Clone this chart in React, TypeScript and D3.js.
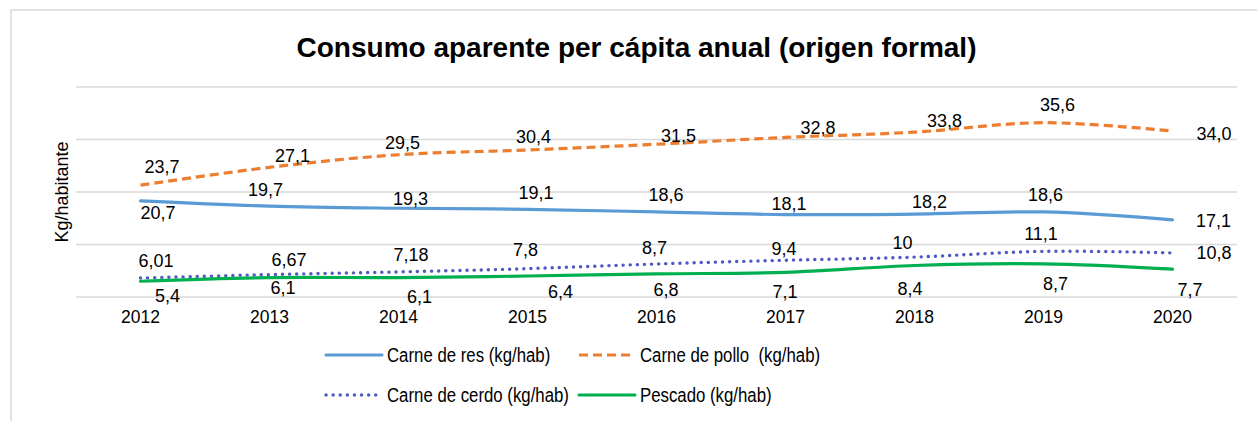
import * as d3 from "d3";

const years = ["2012", "2013", "2014", "2015", "2016", "2017", "2018", "2019", "2020"];

const carneRes = [20.7, 19.7, 19.3, 19.1, 18.6, 18.1, 18.2, 18.6, 17.1];
const carnePollo = [23.7, 27.1, 29.5, 30.4, 31.5, 32.8, 33.8, 35.6, 34.0];
const carneCerdo = [6.01, 6.67, 7.18, 7.8, 8.7, 9.4, 10, 11.1, 10.8];
const pescado = [5.4, 6.1, 6.1, 6.4, 6.8, 7.1, 8.4, 8.7, 7.7];

const seriesNames = [
  "Carne de res (kg/hab)",
  "Carne de pollo  (kg/hab)",
  "Carne de cerdo (kg/hab)",
  "Pescado (kg/hab)",
];

// value axis range (no tick labels shown, gridlines every 10)
const Y_MIN = 2.4;
const Y_MAX = 42.4;

const W = 1257;
const H = 421;
const FONT = "'Liberation Sans', Arial, sans-serif";

const plot = { left: 76, right: 1237, top: 87, bottom: 297 };

const fmt1 = (v: number) => v.toFixed(1).replace(".", ",");
const fmtRaw = (v: number) => String(v).replace(".", ",");

// label placement relative to each point (excel-ish manual positions)
const labelOffsets: number[][][] = [
  [[17.5, 12], [-4, -16], [12, -10], [8.5, -16.6], [9.5, -17], [3.5, -11.3], [15, -12.4], [2, -17], [41, 1]],
  [[21.5, -18], [23, -12], [4, -12], [6, -13], [22, -9], [32.5, -10], [30, -11.5], [14, -17.7], [41.5, 3]],
  [[15.5, -17], [19.5, -14.6], [12.5, -17], [-2, -18.7], [-2, -16], [-1.5, -12], [-12, -14.4], [-2.5, -17.3], [41.5, 0]],
  [[27, 14], [13.5, 10.4], [21, 19], [33, 15.7], [9.5, 16], [-0.5, 19.4], [-4.5, 22.8], [12, 20], [17.5, 21]],
];

const series = [
  { name: seriesNames[0], values: carneRes, color: "#5B9BD5", dash: undefined, cap: "round", width: 3.2, fmt: fmt1 },
  { name: seriesNames[1], values: carnePollo, color: "#ED7D31", dash: "9 5", cap: "butt", width: 3.2, fmt: fmt1 },
  { name: seriesNames[2], values: carneCerdo, color: "#4F5BC2", dash: "0.1 7", cap: "round", width: 3.4, fmt: fmtRaw },
  { name: seriesNames[3], values: pescado, color: "#00B050", dash: undefined, cap: "round", width: 3.2, fmt: fmt1 },
];

export default function App() {
  const x = d3.scalePoint<string>().domain(years).range([plot.left, plot.right]).padding(0.5);
  const y = d3.scaleLinear().domain([Y_MIN, Y_MAX]).range([plot.bottom, plot.top]);
  const grid = d3.range(Y_MIN, Y_MAX + 1e-6, 10);

  const line = d3
    .line<number>()
    .x((_, i) => x(years[i])!)
    .y(d => y(d))
    .curve(d3.curveCatmullRom.alpha(0.5));

  const legendCols = [326, 579];
  const legendRows = [355, 395];

  return (
    <svg
      width={W}
      height={H}
      style={{ position: "absolute", left: 0, top: 0, background: "#fff" }}
      fontFamily={FONT}
    >
      <rect x={11} y={10} width={W + 50} height={H + 50} fill="#fff" stroke="#D9D9D9" strokeWidth={1.5} />

      <text x={636.5} y={57} textAnchor="middle" fontSize={28} fontWeight="bold" fill="#000">
        Consumo aparente per cápita anual (origen formal)
      </text>

      {grid.map(g => (
        <line key={g} x1={plot.left} x2={plot.right} y1={y(g)} y2={y(g)} stroke="#D9D9D9" strokeWidth={1.3} />
      ))}

      <text
        transform={`translate(62, ${(plot.top + plot.bottom) / 2}) rotate(-90)`}
        textAnchor="middle"
        dy="0.35em"
        fontSize={18}
        fill="#000"
      >
        Kg/habitante
      </text>

      {years.map(yr => (
        <text key={yr} x={x(yr)} y={317} dy="0.35em" textAnchor="middle" fontSize={17.5} fill="#000">
          {yr}
        </text>
      ))}

      {series.map(s => (
        <path
          key={s.name}
          d={line(s.values) || ""}
          fill="none"
          stroke={s.color}
          strokeWidth={s.width}
          strokeDasharray={s.dash}
          strokeLinecap={s.cap as any}
        />
      ))}

      {series.map((s, si) =>
        s.values.map((v, i) => (
          <text
            key={s.name + i}
            x={x(years[i])! + labelOffsets[si][i][0]}
            y={y(v) + labelOffsets[si][i][1]}
            dy="0.35em"
            textAnchor="middle"
            fontSize={18}
            fill="#000"
          >
            {s.fmt(v)}
          </text>
        ))
      )}

      {series.map((s, si) => {
        const lx = legendCols[si % 2];
        const ly = legendRows[Math.floor(si / 2)];
        return (
          <g key={"lg" + s.name}>
            <line
              x1={lx}
              x2={lx + 56}
              y1={ly}
              y2={ly}
              stroke={s.color}
              strokeWidth={s.width}
              strokeDasharray={s.dash}
              strokeLinecap={s.cap as any}
            />
            <text
              transform={`translate(${lx + 61}, ${ly}) scale(0.8, 1)`}
              dy="0.35em"
              fontSize={21}
              fill="#000"
              style={{ whiteSpace: "pre" }}
            >
              {s.name}
            </text>
          </g>
        );
      })}
    </svg>
  );
}
